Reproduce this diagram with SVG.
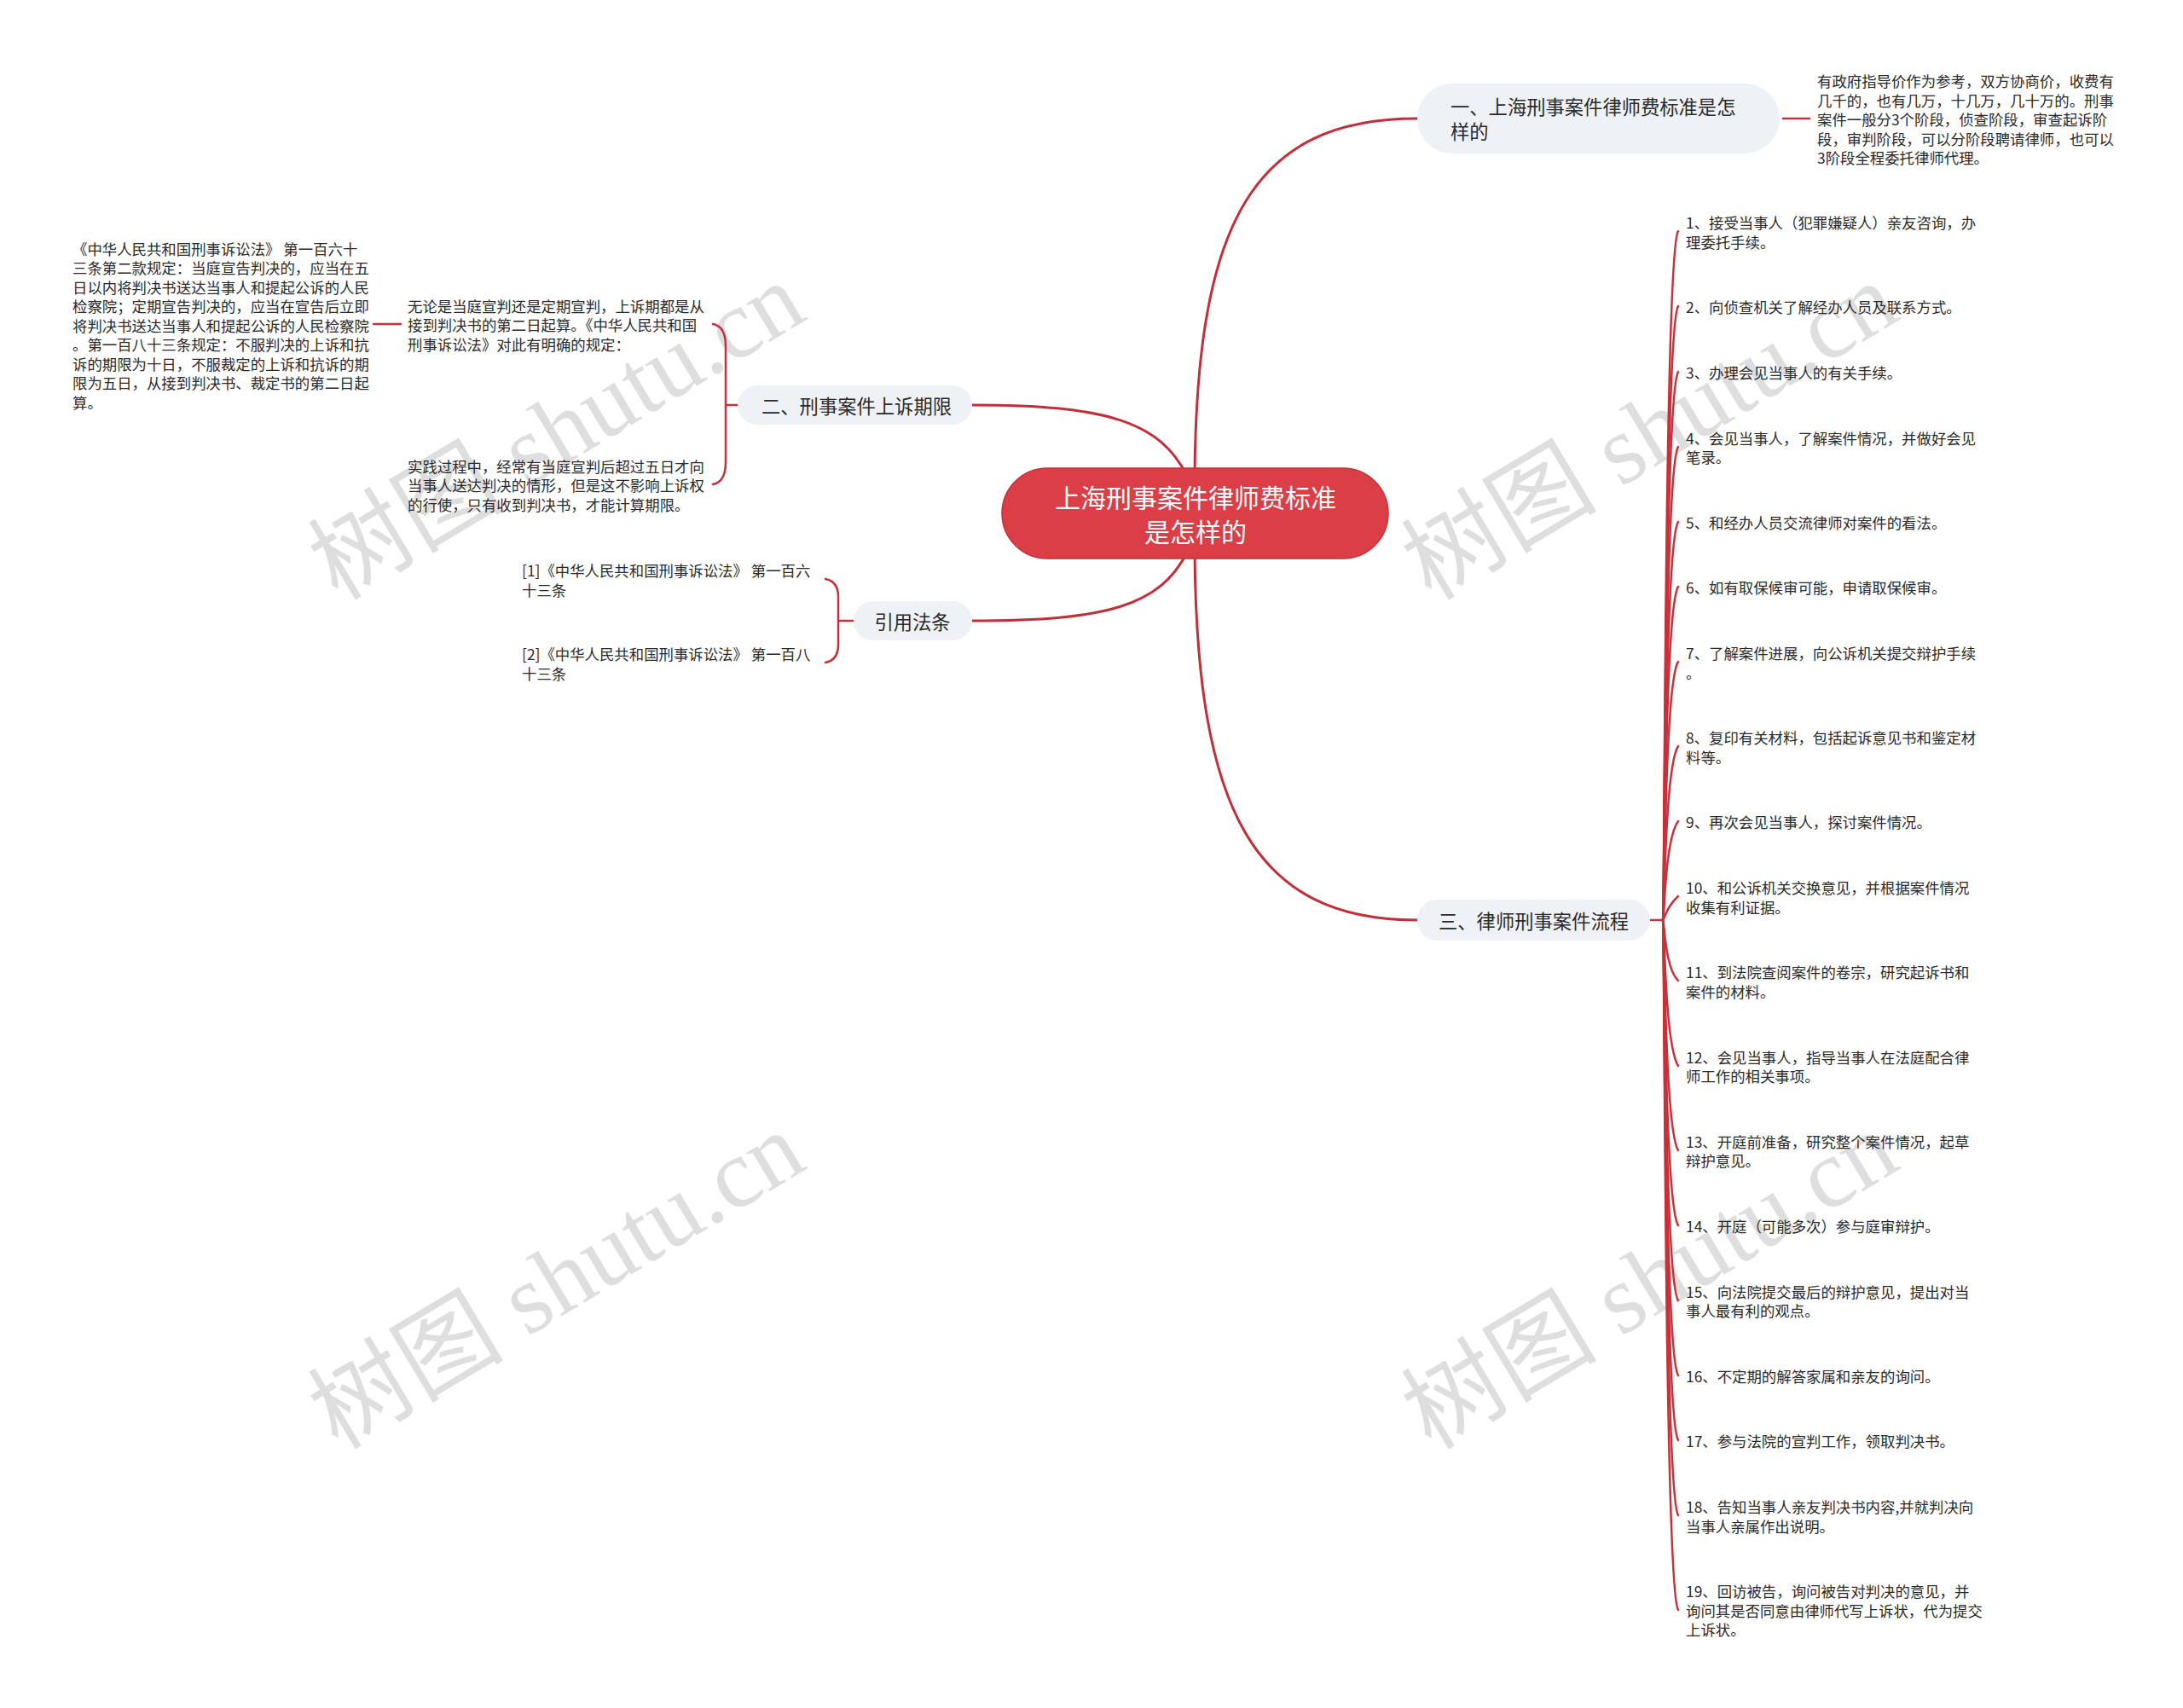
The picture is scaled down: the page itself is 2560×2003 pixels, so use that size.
<svg xmlns="http://www.w3.org/2000/svg" width="2560" height="2003" viewBox="0 0 2560 2003">
<style>
text{font-family:"Noto Sans CJK SC","Noto Sans",sans-serif;fill:#2a2a2a;dominant-baseline:central}
.s{font-size:17.4px}
.n{font-size:22.3px}
.c{font-size:30px;fill:#ffffff}
.box{fill:#eef1f5}
.ln{fill:none;stroke:#c0303a;stroke-width:3;stroke-linecap:round}
.tn{fill:none;stroke:#c8313a;stroke-width:2.5;stroke-linecap:round}
.wm{font-family:"Liberation Serif","Noto Sans CJK SC",serif;font-size:115px;fill:#d4d4d4;opacity:0.75;text-anchor:middle}
</style>
<rect width="2560" height="2003" fill="#ffffff"/>
<g id="watermarks">
<text class="wm" x="653" y="506" transform="rotate(-31 653 506)">树图 shutu.cn</text>
<text class="wm" x="1935" y="506" transform="rotate(-31 1935 506)">树图 shutu.cn</text>
<text class="wm" x="653" y="1502" transform="rotate(-31 653 1502)">树图 shutu.cn</text>
<text class="wm" x="1935" y="1502" transform="rotate(-31 1935 1502)">树图 shutu.cn</text>
</g>
<g id="connectors">
<path class="ln" d="M1401 560 C1403 260,1470 139,1662 139"/>
<path class="ln" d="M1401 645 C1403 950,1470 1079,1662 1079"/>
<path class="ln" d="M1140 475 C1300 475,1360 495,1392 558"/>
<path class="ln" d="M1140 728 C1300 728,1360 710,1392 648"/>
<path class="tn" d="M2091 139 L2122 139"/>
<path class="tn" d="M865 475 L851 475 M836 380 C847 382,851 392,851 406 L851 542 C851 556,847 566,836 568"/>
<path class="tn" d="M470 380 L438 380"/>
<path class="tn" d="M1001 728 L983 728 M968 679 C979 681,983 689,983 700 L983 756 C983 767,979 775,968 777"/>
<path class="tn" d="M1935 1079 L1950 1079"/>
<path class="tn" d="M1950 1079 C1952 1079,1952 296,1968 271"/>
<path class="tn" d="M1950 1079 C1952 1079,1952 384,1968 359"/>
<path class="tn" d="M1950 1079 C1952 1079,1952 461,1968 436"/>
<path class="tn" d="M1950 1079 C1952 1079,1952 549,1968 524"/>
<path class="tn" d="M1950 1079 C1952 1079,1952 637,1968 612"/>
<path class="tn" d="M1950 1079 C1952 1079,1952 713,1968 688"/>
<path class="tn" d="M1950 1079 C1952 1079,1952 801,1968 776"/>
<path class="tn" d="M1950 1079 C1952 1079,1952 900,1968 875"/>
<path class="tn" d="M1950 1079 C1952 1079,1952 985,1968 963"/>
<path class="tn" d="M1950 1079 C1952 1079,1952 1066,1968 1051"/>
<path class="tn" d="M1950 1079 C1952 1079,1952 1135,1968 1150"/>
<path class="tn" d="M1950 1079 C1952 1079,1952 1225,1968 1250"/>
<path class="tn" d="M1950 1079 C1952 1079,1952 1324,1968 1349"/>
<path class="tn" d="M1950 1079 C1952 1079,1952 1412,1968 1437"/>
<path class="tn" d="M1950 1079 C1952 1079,1952 1500,1968 1525"/>
<path class="tn" d="M1950 1079 C1952 1079,1952 1588,1968 1613"/>
<path class="tn" d="M1950 1079 C1952 1079,1952 1664,1968 1689"/>
<path class="tn" d="M1950 1079 C1952 1079,1952 1752,1968 1777"/>
<path class="tn" d="M1950 1079 C1952 1079,1952 1863,1968 1888"/>
</g>
<g id="root">
<rect x="1175" y="549" width="453" height="106" rx="53" fill="#db3e46" stroke="#c2323a" stroke-width="1.5"/>
<text class="c" text-anchor="middle"><tspan x="1402" y="582">上海刑事案件律师费标准</tspan><tspan x="1402" y="622">是怎样的</tspan></text>
</g>
<g id="b1">
<rect class="box" x="1662" y="98" width="425" height="82" rx="41"/>
<text class="n"><tspan x="1701" y="124">一、上海刑事案件律师费标准是怎</tspan><tspan x="1701" y="153">样的</tspan></text>
</g>
<g id="b1-1">
<text class="s"><tspan x="2131" y="94">有政府指导价作为参考，双方协商价，收费有</tspan><tspan x="2131" y="116.5">几千的，也有几万，十几万，几十万的。刑事</tspan><tspan x="2131" y="139">案件一般分3个阶段，侦查阶段，审查起诉阶</tspan><tspan x="2131" y="161.5">段，审判阶段，可以分阶段聘请律师，也可以</tspan><tspan x="2131" y="184">3阶段全程委托律师代理。</tspan></text>
</g>
<g id="b2">
<rect class="box" x="865" y="452" width="275" height="46" rx="23"/>
<text class="n" x="893" y="475">二、刑事案件上诉期限</text>
</g>
<g id="b2-1">
<text class="s"><tspan x="478" y="357.5">无论是当庭宣判还是定期宣判，上诉期都是从</tspan><tspan x="478" y="380">接到判决书的第二日起算。《中华人民共和国</tspan><tspan x="478" y="402.5">刑事诉讼法》对此有明确的规定：</tspan></text>
</g>
<g id="b2-1-1">
<text class="s"><tspan x="85" y="290.5">《中华人民共和国刑事诉讼法》 第一百六十</tspan><tspan x="85" y="313">三条第二款规定：当庭宣告判决的，应当在五</tspan><tspan x="85" y="335.5">日以内将判决书送达当事人和提起公诉的人民</tspan><tspan x="85" y="358">检察院；定期宣告判决的，应当在宣告后立即</tspan><tspan x="85" y="380.5">将判决书送达当事人和提起公诉的人民检察院</tspan><tspan x="85" y="403">。第一百八十三条规定：不服判决的上诉和抗</tspan><tspan x="85" y="425.5">诉的期限为十日，不服裁定的上诉和抗诉的期</tspan><tspan x="85" y="448">限为五日，从接到判决书、裁定书的第二日起</tspan><tspan x="85" y="470.5">算。</tspan></text>
</g>
<g id="b2-2">
<text class="s"><tspan x="478" y="545.5">实践过程中，经常有当庭宣判后超过五日才向</tspan><tspan x="478" y="568">当事人送达判决的情形，但是这不影响上诉权</tspan><tspan x="478" y="590.5">的行使，只有收到判决书，才能计算期限。</tspan></text>
</g>
<g id="b4">
<rect class="box" x="1001" y="705" width="139" height="46" rx="23"/>
<text class="n" x="1070" y="728" text-anchor="middle">引用法条</text>
</g>
<g id="b4-1">
<text class="s"><tspan x="612" y="668">[1]《中华人民共和国刑事诉讼法》 第一百六</tspan><tspan x="612" y="690.5">十三条</tspan></text>
</g>
<g id="b4-2">
<text class="s"><tspan x="612" y="766">[2]《中华人民共和国刑事诉讼法》 第一百八</tspan><tspan x="612" y="788.5">十三条</tspan></text>
</g>
<g id="b3">
<rect class="box" x="1662" y="1055" width="273" height="48" rx="24"/>
<text class="n" x="1687" y="1079">三、律师刑事案件流程</text>
</g>
<g id="b3-items">
<text class="s" id="i1"><tspan x="1977" y="260">1、接受当事人（犯罪嫌疑人）亲友咨询，办</tspan><tspan x="1977" y="282.5">理委托手续。</tspan></text>
<text class="s" id="i2" x="1977" y="359">2、向侦查机关了解经办人员及联系方式。</text>
<text class="s" id="i3" x="1977" y="436">3、办理会见当事人的有关手续。</text>
<text class="s" id="i4"><tspan x="1977" y="512.5">4、会见当事人，了解案件情况，并做好会见</tspan><tspan x="1977" y="535">笔录。</tspan></text>
<text class="s" id="i5" x="1977" y="612">5、和经办人员交流律师对案件的看法。</text>
<text class="s" id="i6" x="1977" y="688">6、如有取保候审可能，申请取保候审。</text>
<text class="s" id="i7"><tspan x="1977" y="765">7、了解案件进展，向公诉机关提交辩护手续</tspan><tspan x="1977" y="787.5">。</tspan></text>
<text class="s" id="i8"><tspan x="1977" y="864">8、复印有关材料，包括起诉意见书和鉴定材</tspan><tspan x="1977" y="886.5">料等。</tspan></text>
<text class="s" id="i9" x="1977" y="963">9、再次会见当事人，探讨案件情况。</text>
<text class="s" id="i10"><tspan x="1977" y="1040">10、和公诉机关交换意见，并根据案件情况</tspan><tspan x="1977" y="1062.5">收集有利证据。</tspan></text>
<text class="s" id="i11"><tspan x="1977" y="1139">11、到法院查阅案件的卷宗，研究起诉书和</tspan><tspan x="1977" y="1161.5">案件的材料。</tspan></text>
<text class="s" id="i12"><tspan x="1977" y="1238.5">12、会见当事人，指导当事人在法庭配合律</tspan><tspan x="1977" y="1261">师工作的相关事项。</tspan></text>
<text class="s" id="i13"><tspan x="1977" y="1337.5">13、开庭前准备，研究整个案件情况，起草</tspan><tspan x="1977" y="1360">辩护意见。</tspan></text>
<text class="s" id="i14" x="1977" y="1437">14、开庭（可能多次）参与庭审辩护。</text>
<text class="s" id="i15"><tspan x="1977" y="1513.5">15、向法院提交最后的辩护意见，提出对当</tspan><tspan x="1977" y="1536">事人最有利的观点。</tspan></text>
<text class="s" id="i16" x="1977" y="1613">16、不定期的解答家属和亲友的询问。</text>
<text class="s" id="i17" x="1977" y="1689">17、参与法院的宣判工作，领取判决书。</text>
<text class="s" id="i18"><tspan x="1977" y="1766">18、告知当事人亲友判决书内容,并就判决向</tspan><tspan x="1977" y="1788.5">当事人亲属作出说明。</tspan></text>
<text class="s" id="i19"><tspan x="1977" y="1865">19、回访被告，询问被告对判决的意见，并</tspan><tspan x="1977" y="1887.5">询问其是否同意由律师代写上诉状，代为提交</tspan><tspan x="1977" y="1910">上诉状。</tspan></text>
</g>
</svg>
